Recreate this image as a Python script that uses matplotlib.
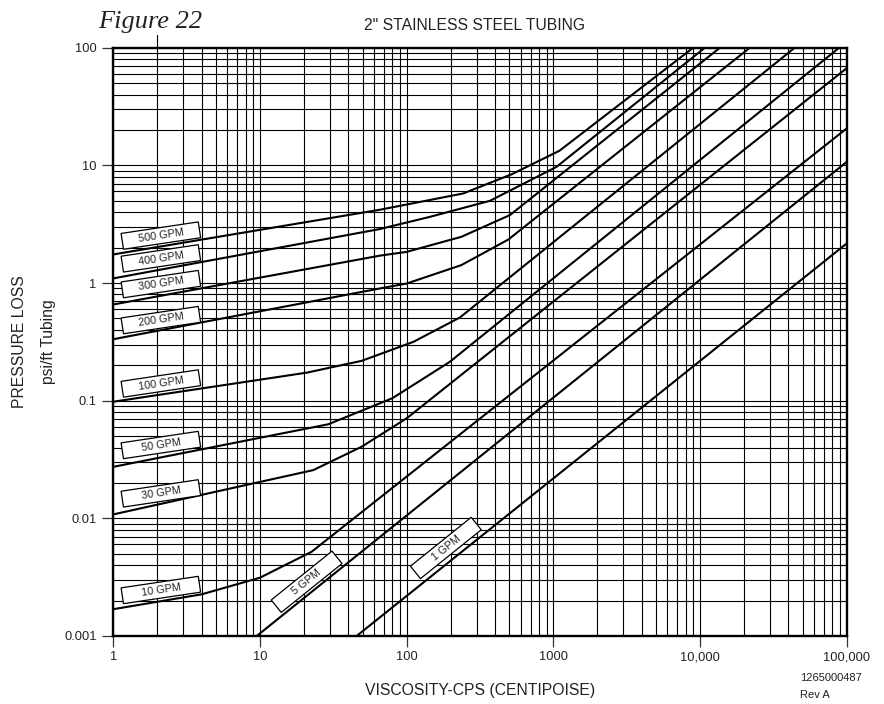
import matplotlib
matplotlib.use('Agg')
import matplotlib.pyplot as plt
import matplotlib.patches as mpatches
import matplotlib.transforms as mtransforms
from matplotlib import font_manager
from matplotlib.ticker import FixedLocator, LogLocator, NullFormatter

# pressure loss curves for 2" stainless tubing: viscosity (cps) -> psi/ft
visc_500 = [1, 66, 243, 520, 1100, 8990]
psi_500 = [1.75, 4.2, 5.77, 8.4, 13.3, 100]

visc_400 = [1, 66, 144, 370, 1050, 10790]
psi_400 = [1.095, 2.88, 3.65, 5.0, 9.7, 100]

visc_300 = [1, 66, 100, 236, 506, 13670]
psi_300 = [0.657, 1.71, 1.84, 2.47, 3.78, 100]

visc_200 = [1, 66, 100, 236, 493, 21870]
psi_200 = [0.333, 0.90, 0.99, 1.42, 2.34, 100]

visc_100 = [1, 20.8, 49.3, 111, 231, 44260]
psi_100 = [0.098, 0.173, 0.218, 0.316, 0.51, 100]

visc_50 = [1, 29.2, 80, 197, 88900]
psi_50 = [0.0274, 0.063, 0.105, 0.214, 100]

visc_30 = [1, 23.1, 49.3, 100, 100000]
psi_30 = [0.0108, 0.0257, 0.0406, 0.0708, 67]

visc_10 = [1, 4.0, 10, 22.5, 100000]
psi_10 = [0.00169, 0.00226, 0.00313, 0.0052, 20.6]

visc_5 = [9.5, 100000]
psi_5 = [0.001, 10.7]

visc_1 = [45.6, 100000]
psi_1 = [0.001, 2.17]

flow_names = ['500 GPM', '400 GPM', '300 GPM', '200 GPM', '100 GPM',
              '50 GPM', '30 GPM', '10 GPM', '5 GPM', '1 GPM']

x_ticks = [1, 10, 100, 1000, 10000, 100000]
x_ticklabels = ['1', '10', '100', '1000', '10,000', '100,000']
y_ticks = [0.001, 0.01, 0.1, 1, 10, 100]
y_ticklabels = ['0.001', '0.01', '0.1', '1', '10', '100']

curves = [
    (visc_500, psi_500), (visc_400, psi_400), (visc_300, psi_300),
    (visc_200, psi_200), (visc_100, psi_100), (visc_50, psi_50),
    (visc_30, psi_30), (visc_10, psi_10), (visc_5, psi_5), (visc_1, psi_1),
]

# where each flag sits (viscosity, psi/ft, angle in degrees)
flag_spots = {
    '500 GPM': (2.11, 2.53, 8.5),
    '400 GPM': (2.11, 1.62, 8.5),
    '300 GPM': (2.11, 0.979, 8.5),
    '200 GPM': (2.11, 0.484, 8.5),
    '100 GPM': (2.11, 0.140, 8.5),
    '50 GPM': (2.11, 0.042, 8.5),
    '30 GPM': (2.11, 0.0163, 8.5),
    '10 GPM': (2.11, 0.00246, 8.5),
    '5 GPM': (20.8, 0.00289, 38.8),
    '1 GPM': (185, 0.0056, 38.8),
}

names = {f.name for f in font_manager.fontManager.ttflist}
if 'Liberation Sans Narrow' in names:
    sans, k = 'Liberation Sans Narrow', 1.0
else:
    sans, k = 'Liberation Sans', 0.84
plt.rcParams['font.family'] = sans

W, H = 884, 704
fig = plt.figure(figsize=(W / 100, H / 100), dpi=100)
ax = fig.add_axes([113.3 / W, (H - 636) / H, (846.7 - 113.3) / W, (636 - 47.7) / H])

ax.set_xscale('log')
ax.set_yscale('log')
ax.set_xlim(1, 100000)
ax.set_ylim(0.001, 100)

# log paper grid: every 1..9 line in each decade
ax.xaxis.set_minor_locator(LogLocator(base=10, subs=range(2, 10), numticks=50))
ax.yaxis.set_minor_locator(LogLocator(base=10, subs=range(2, 10), numticks=50))
ax.xaxis.set_minor_formatter(NullFormatter())
ax.yaxis.set_minor_formatter(NullFormatter())
ax.grid(which='both', color='black', linewidth=0.8, zorder=1)
ax.set_axisbelow(True)

ax.xaxis.set_major_locator(FixedLocator(x_ticks))
ax.yaxis.set_major_locator(FixedLocator(y_ticks))
ax.set_xticklabels(x_ticklabels)
ax.set_yticklabels(y_ticklabels)
ax.tick_params(which='major', length=8, width=0.9, color='#333333',
               labelsize=11 * k, labelcolor='#222222')
ax.tick_params(axis='x', pad=3)
ax.tick_params(axis='y', pad=4)
ax.tick_params(which='minor', length=0)

for sp in ax.spines.values():
    sp.set_linewidth(1.7)

for vis, psi in curves:
    ax.plot(vis, psi, color='black', linewidth=1.5, zorder=3)

# the x=2 rule runs a little past the top edge
ax.plot([2, 2], [100, 128], color='black', linewidth=0.8, clip_on=False)

# flags on the curves
box_w, box_h = 78, 16
for name in flow_names:
    xv, yv, ang = flag_spots[name]
    tr = mtransforms.Affine2D().rotate_deg(ang) + mtransforms.ScaledTranslation(xv, yv, ax.transData)
    rect = mpatches.Rectangle((-box_w / 2, -box_h / 2), box_w, box_h,
                              facecolor='white', edgecolor='black', linewidth=0.9,
                              transform=tr, zorder=5, clip_on=False)
    ax.add_patch(rect)
    ax.text(xv, yv, name, rotation=ang, rotation_mode='anchor', ha='center', va='center',
            fontsize=9.3 * k, color='#222222', zorder=6)

fig.text(475 / W, 1 - 26 / H, '2" STAINLESS STEEL TUBING', ha='center', va='center',
         fontsize=13.5 * k, color='#222222')
fig.text(98 / W, 1 - 28 / H, 'Figure 22', ha='left', va='baseline',
         fontsize=19, style='italic', family='Liberation Serif', color='#222222')

fig.text(20 / W, 1 - 342 / H, 'PRESSURE LOSS', rotation=90, ha='center', va='center',
         fontsize=13.5 * k, color='#222222')
fig.text(49 / W, 1 - 342 / H, 'psi/ft Tubing', rotation=90, ha='center', va='center',
         fontsize=13.5 * k, color='#222222')
fig.text(480.5 / W, 1 - 690 / H, 'VISCOSITY-CPS (CENTIPOISE)', ha='center', va='center',
         fontsize=13.5 * k, color='#222222')

fig.text(800 / W, 1 - 678 / H, '1265000487', ha='left', va='center',
         fontsize=9.5 * k, color='#222222')
fig.text(800 / W, 1 - 695 / H, 'Rev A', ha='left', va='center',
         fontsize=9.5 * k, color='#222222')

fig.savefig('out.png', dpi=100)
